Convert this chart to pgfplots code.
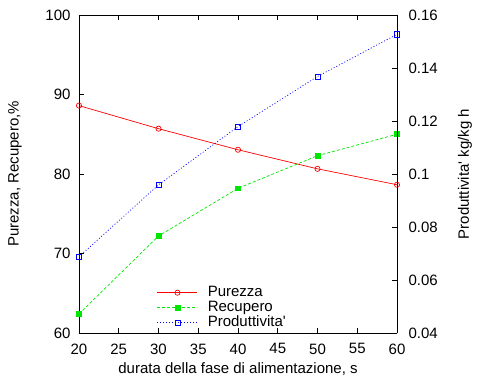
\documentclass[border=0pt]{standalone}
\usepackage{fontspec}
\setmainfont{Liberation Sans}
\usepackage{pgfplots}
\pgfplotsset{compat=1.18}
\definecolor{gpgreen}{RGB}{0,230,0}
\begin{document}
\begin{tikzpicture}
\pgfplotsset{
  base/.style={
    width=318pt, height=318pt, scale only axis,
    xmin=20, xmax=60,
    tick align=inside, major tick length=5pt,
    font=\fontsize{15}{17}\selectfont,
    /pgf/number format/assume math mode=true,
    axis line style={line width=0.9pt},
    every tick/.style={black, line width=0.8pt},
  },
}
\begin{axis}[base,
  ymin=60, ymax=100, ytick={60,70,...,100},
  xtick={20,25,...,60},
  axis y line*=left,
  xticklabel style={yshift=-7pt},
  yticklabel style={xshift=-5pt},
  xlabel={durata della fase di alimentazione, s},
  ylabel={Purezza, Recupero,\%},
  xlabel style={at={(axis description cs:0.5,-0.113)}, anchor=center},
  ylabel style={at={(axis description cs:-0.201,0.5)}, anchor=center},
]
\addplot[red, line width=0.7pt, mark=o, mark size=2.6pt] coordinates {(20,88.6)(30,85.7)(40,83.05)(50,80.65)(60,78.65)};
\addplot[gpgreen, line width=0.7pt, dash pattern=on 3pt off 2pt, mark=square*, mark size=2.4pt, mark options={solid}] coordinates {(20,62.4)(30,72.2)(40,78.2)(50,82.3)(60,85.0)};
\end{axis}
\begin{axis}[base,
  ymin=0.04, ymax=0.16, ytick={0.04,0.06,...,0.161},
  axis y line*=right, axis x line=none,
  scaled y ticks=false,
  yticklabel style={/pgf/number format/fixed, /pgf/number format/precision=2, xshift=8pt},
  ylabel={Produttivita\textquotesingle{} kg/kg h},
  ylabel style={at={(axis description cs:1.214,0.5)}, anchor=center},
  legend style={at={(axis description cs:0.245,0.151)}, anchor=north west, draw=none, fill=none, inner sep=0pt, row sep=0pt,
    nodes={inner xsep=0pt, inner ysep=0pt, text height=11pt, text depth=4pt},
    /tikz/every odd column/.append style={column sep=10pt}},
  legend cell align=left,
  legend image code/.code={\draw[mark repeat=2,mark phase=2] plot coordinates {(0pt,0pt)(20pt,0pt)(40pt,0pt)};},
]
\addlegendimage{red, line width=0.7pt, mark=o, mark size=2.6pt}
\addlegendentry{Purezza}
\addlegendimage{gpgreen, line width=0.7pt, dash pattern=on 3pt off 2pt, mark=square*, mark size=2.4pt, mark options={solid}}
\addlegendentry{Recupero}
\addplot[blue, line width=0.7pt, dash pattern=on 1pt off 2pt, mark=square, mark size=2.6pt, mark options={solid}] coordinates {(20,0.0688)(30,0.0959)(40,0.1179)(50,0.1368)(60,0.1527)};
\addlegendentry{Produttivita\textquotesingle}
\end{axis}
\pgfresetboundingbox
\path (-79pt,-47pt) rectangle (399pt,333pt);
\end{tikzpicture}
\end{document}
